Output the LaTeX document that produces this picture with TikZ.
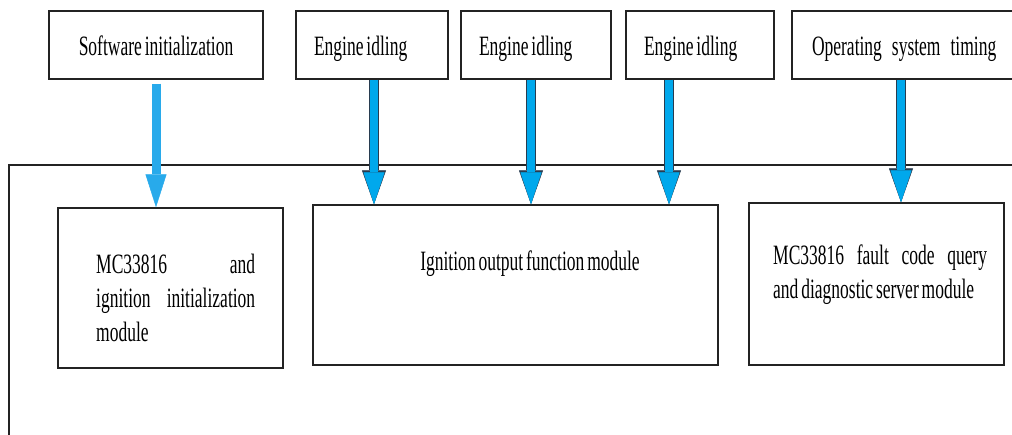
\documentclass[tikz,border=0pt]{standalone}
\usepackage{fontspec}
\setmainfont{Liberation Serif}[FakeStretch=0.625,WordSpace=0.65]
\usetikzlibrary{arrows.meta}
\definecolor{arrowblue}{RGB}{0,168,236}
\definecolor{arrowlight}{RGB}{40,170,235}
\definecolor{arrowedge}{RGB}{40,60,80}
\definecolor{boxline}{RGB}{35,35,35}
\tikzset{
  box/.style={draw=boxline, line width=1.4pt, inner sep=0pt},
  topbox/.style={box, minimum height=68pt, text height=24pt, text depth=4pt},
  modbox/.style={box, minimum height=160pt},
  modtext/.style={inner sep=0pt, align=justify, anchor=north west},
  frameline/.style={draw=boxline, line width=1.4pt},
  flow/.style={line width=8pt, draw=arrowblue,
    -{Triangle[length=32pt,width=21pt,line width=0.5pt,fill=arrowblue]},
    preaction={draw=arrowedge, line width=10pt,
      -{Triangle[length=34pt,width=24pt,line width=0.5pt,fill=arrowedge]}}},
  flowlight/.style={line width=9pt, draw=arrowlight,
    -{Triangle[length=33pt,width=21pt,line width=0.5pt,fill=arrowlight]}}
}
\begin{document}
\begin{tikzpicture}[x=1pt,y=-1pt,font=\fontsize{28}{34}\selectfont]
\useasboundingbox (0,0) rectangle (1012,434);
\draw[frameline] (9,440) -- (9,165) -- (1020,165);
% inputs
\node[topbox, minimum width=214pt] (sw) at (156,45) {Software initialization};
\node[topbox, text width=116pt, inner xsep=18pt, align=justify] (eng1) at (372,45) {Engine idling};
\node[topbox, text width=114pt, inner xsep=18pt, align=justify] (eng2) at (536,45) {Engine idling};
\node[topbox, text width=112pt, inner xsep=18pt, align=justify] (eng3) at (700,45) {Engine idling};
\node[topbox, text width=190pt, inner xsep=20pt, align=justify] (ost) at (907,45) {Operating\hspace{10pt}system\hspace{10pt}timing};
% modules
\node[modbox, minimum width=225pt] (init) at (170.5,288) {};
\node[modbox, minimum width=405pt] (ign) at (515.5,285) {};
\node[modbox, minimum width=255pt, minimum height=162pt] (fault) at (876.5,284) {};
\node[modtext, text width=159pt] (inittext) at (96,254) {MC33816\hfill and\\ignition\hfill initialization\\module};
\node[inner sep=0pt, anchor=base] (igntext) at (530,270) {Ignition output function module};
\node[modtext, text width=214pt] (faulttext) at (773,245) {MC33816\hfill fault\hfill code\hfill query\\and diagnostic server module};
% arrows
\draw[flowlight] ([yshift=-4pt]sw.south) -- (sw.south |- init.north);
\draw[flow] ([xshift=2pt]eng1.south) -- ([xshift=2pt]eng1.south |- ign.north);
\draw[flow] ([xshift=-5pt]eng2.south) -- ([xshift=-5pt]eng2.south |- ign.north);
\draw[flow] ([xshift=-31pt]eng3.south) -- ([xshift=-31pt]eng3.south |- ign.north);
\draw[flow] ([xshift=-6pt]ost.south) -- ([xshift=-6pt]ost.south |- fault.north);
\end{tikzpicture}
\end{document}
